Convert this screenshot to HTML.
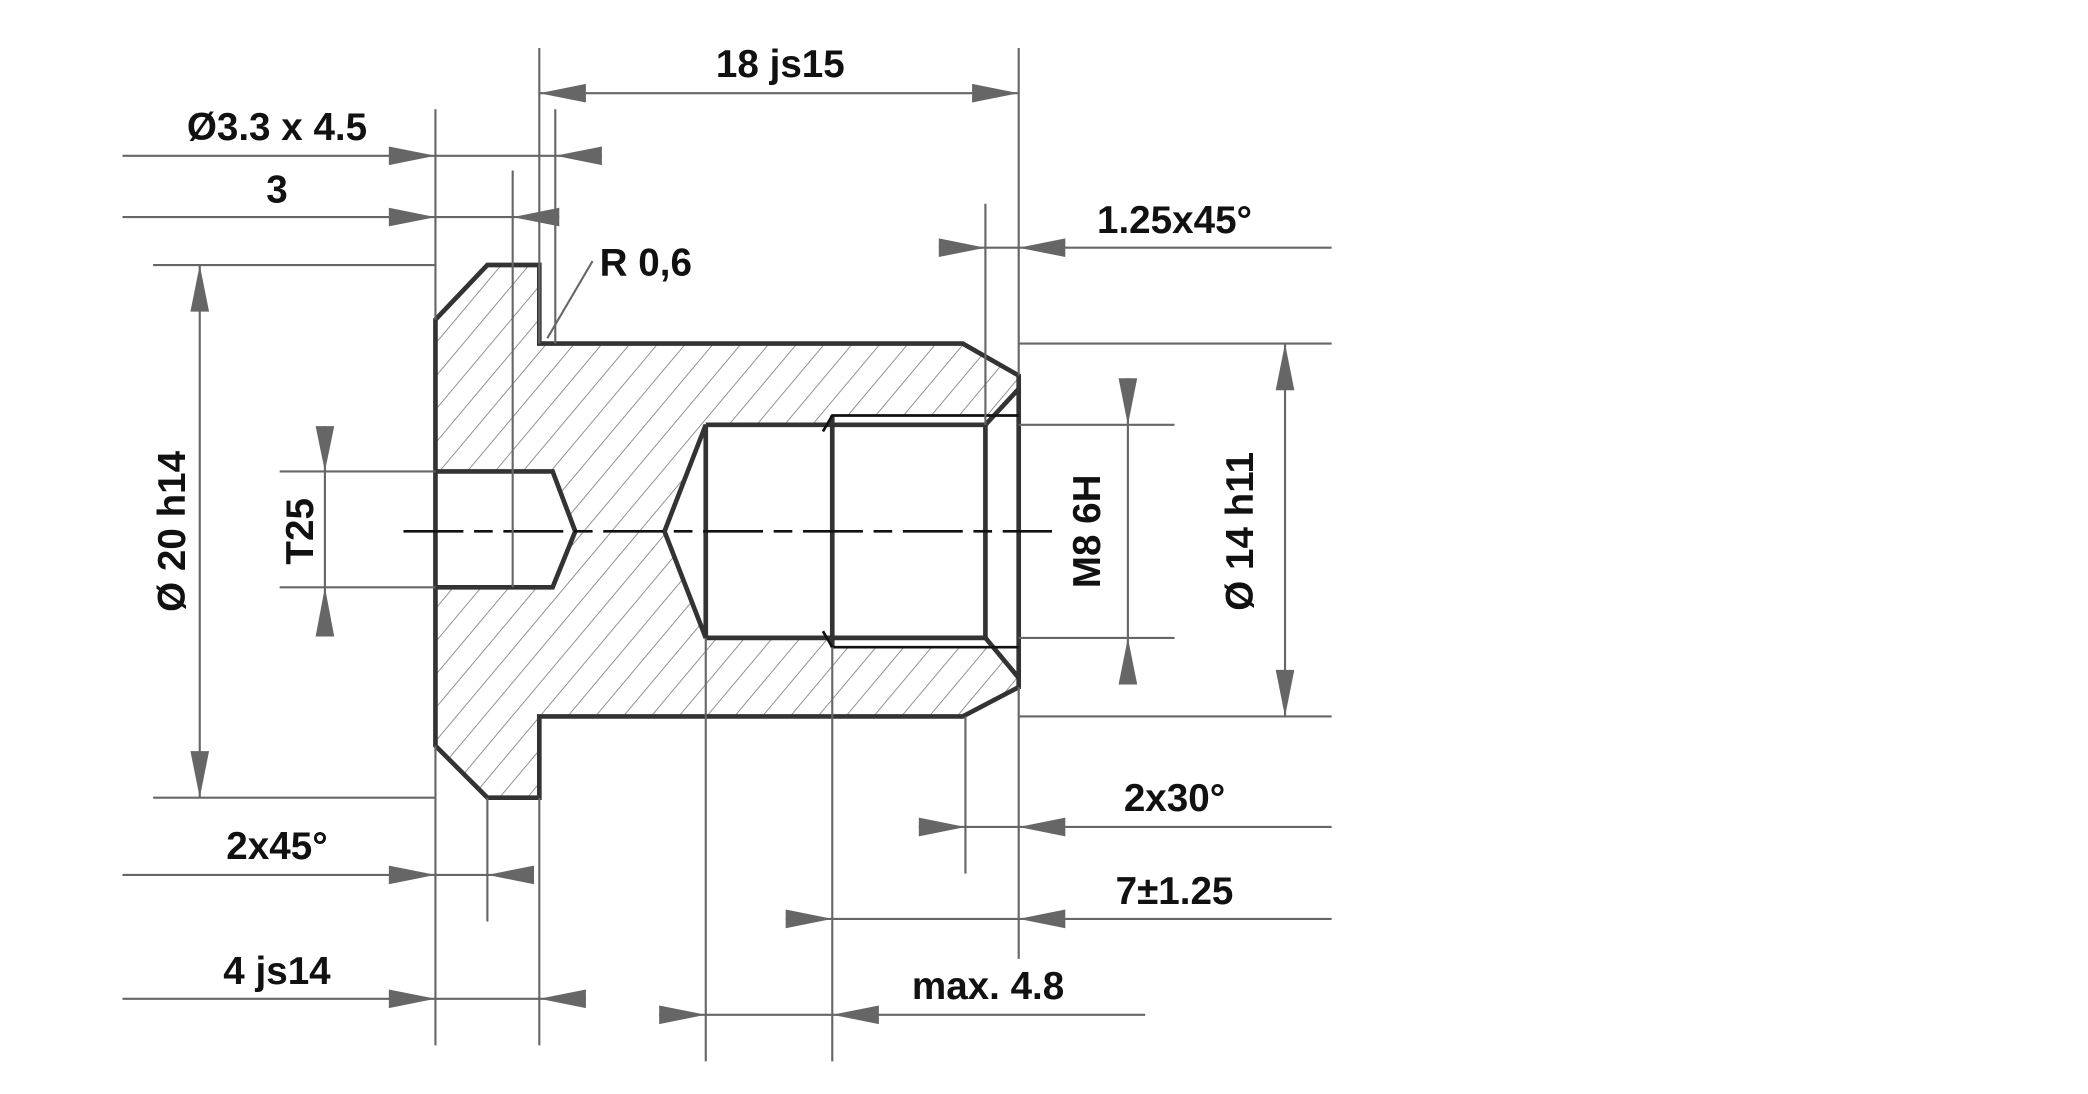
<!DOCTYPE html>
<html><head><meta charset="utf-8"><style>
html,body{margin:0;padding:0;background:#fff}
svg{display:block}
text{font-family:"Liberation Sans",Arial,sans-serif;font-weight:bold;font-size:29px;fill:#111}
.d{stroke:#666;stroke-width:1.6;fill:none}
.a{fill:#666}
.o{stroke:#333;stroke-width:3.5;fill:none;stroke-linejoin:miter}
</style></head><body>
<svg width="2088" height="1094" viewBox="0 0 1568 821.5" preserveAspectRatio="none" xmlns="http://www.w3.org/2000/svg">
<defs>
<pattern id="h" patternUnits="userSpaceOnUse" width="16" height="16" patternTransform="rotate(40)">
<line x1="0" y1="0" x2="0" y2="16" stroke="#777" stroke-width="1.2"/>
</pattern>
</defs>
<path d="M327,240 L366,199 L405,199 L405,258 L723,258 L765,282 L765,516 L723,538 L405,538 L405,599 L366,599 L327,560 Z" fill="url(#h)"/>
<path d="M327,354 L415,354 L432,399 L415,441 L327,441 Z" fill="#fff"/>
<path d="M530,319 L740,319 L765,292 L765,509 L740,479 L530,479 L499,399 Z" fill="#fff"/>
<path d="M622,312 L765,312 L765,486 L622,486 Z" fill="#fff"/>
<path class="o" d="M327,240 L366,199 L405,199 L405,258 L723,258 L765,282 L765,516 L723,538 L405,538 L405,599 L366,599 L327,560 Z"/>
<path class="o" d="M327,354 L415,354 L432,399 L415,441 L327,441"/>
<path class="o" d="M530,319 L740,319 L740,479 L530,479 M530,319 L499,399 L530,479 Z"/>
<line class="o" x1="625" y1="312" x2="625" y2="486"/>
<path class="o" d="M740,319 L765,292 M740,479 L765,509"/>
<path d="M618,324 L625,312 L765,312 M618,474 L625,486 L765,486" stroke="#111" stroke-width="2" fill="none"/>
<line x1="303" y1="399" x2="790" y2="399" stroke="#111" stroke-width="2" stroke-dasharray="45,8,14,8"/>
<line class="d" x1="385" y1="128" x2="385" y2="441"/>
<g class="d">
<line x1="405" y1="36" x2="405" y2="258"/><line x1="765" y1="36" x2="765" y2="282"/>
<line x1="327" y1="82" x2="327" y2="240"/><line x1="417" y1="82" x2="417" y2="258"/>
<line x1="115" y1="199" x2="327" y2="199"/><line x1="115" y1="599" x2="327" y2="599"/>
<line x1="327" y1="560" x2="327" y2="785"/><line x1="405" y1="599" x2="405" y2="785"/>
<line x1="366" y1="599" x2="366" y2="692"/>
<line x1="210" y1="354" x2="327" y2="354"/><line x1="210" y1="441" x2="327" y2="441"/>
<line x1="411" y1="254" x2="445" y2="196"/>
<line x1="740" y1="153" x2="740" y2="319"/>
<line x1="765" y1="258" x2="1000" y2="258"/><line x1="765" y1="538" x2="1000" y2="538"/>
<line x1="765" y1="319" x2="882" y2="319"/><line x1="765" y1="479" x2="882" y2="479"/>
<line x1="725" y1="538" x2="725" y2="656"/><line x1="765" y1="516" x2="765" y2="720"/>
<line x1="625" y1="486" x2="625" y2="797"/><line x1="530" y1="479" x2="530" y2="797"/>
<line x1="405" y1="70" x2="765" y2="70"/>
<line x1="92" y1="117" x2="452" y2="117"/>
<line x1="92" y1="163" x2="420" y2="163"/>
<line x1="150" y1="199" x2="150" y2="599"/>
<line x1="244" y1="320" x2="244" y2="478"/>
<line x1="705" y1="186" x2="1000" y2="186"/>
<line x1="965" y1="258" x2="965" y2="538"/>
<line x1="847" y1="284" x2="847" y2="514"/>
<line x1="690" y1="621" x2="1000" y2="621"/>
<line x1="590" y1="690" x2="1000" y2="690"/>
<line x1="495" y1="762" x2="860" y2="762"/>
<line x1="92" y1="657" x2="400" y2="657"/>
<line x1="92" y1="750" x2="440" y2="750"/>
</g>
<g class="a">
<polygon points="405,70 440,63 440,77"/><polygon points="765,70 730,63 730,77"/>
<polygon points="327,117 292,110 292,124"/><polygon points="417,117 452,110 452,124"/>
<polygon points="327,163 292,156 292,170"/><polygon points="385,163 420,156 420,170"/>
<polygon points="150,199 143,234 157,234"/><polygon points="150,599 143,564 157,564"/>
<polygon points="244,354 237,320 251,320"/><polygon points="244,441 237,478 251,478"/>
<polygon points="740,186 705,179 705,193"/><polygon points="765,186 800,179 800,193"/>
<polygon points="965,258 958,293 972,293"/><polygon points="965,538 958,503 972,503"/>
<polygon points="847,319 840,284 854,284"/><polygon points="847,479 840,514 854,514"/>
<polygon points="725,621 690,614 690,628"/><polygon points="765,621 800,614 800,628"/>
<polygon points="625,690 590,683 590,697"/><polygon points="765,690 800,683 800,697"/>
<polygon points="530,762 495,755 495,769"/><polygon points="625,762 660,755 660,769"/>
<polygon points="327,657 292,650 292,664"/><polygon points="366,657 401,650 401,664"/>
<polygon points="327,750 292,743 292,757"/><polygon points="405,750 440,743 440,757"/>
</g>
<g text-anchor="middle">
<text x="586" y="58">18 js15</text>
<text x="208" y="105">Ø3.3 x 4.5</text>
<text x="208" y="152">3</text>
<text x="485" y="207">R 0,6</text>
<text x="882" y="175">1.25x45°</text>
<text x="882" y="609">2x30°</text>
<text x="882" y="679">7±1.25</text>
<text x="742" y="750">max. 4.8</text>
<text x="208" y="645">2x45°</text>
<text x="208" y="739">4 js14</text>
<text transform="translate(139,399) rotate(-90)">Ø 20 h14</text>
<text transform="translate(235,399) rotate(-90)">T25</text>
<text transform="translate(826,399) rotate(-90)">M8 6H</text>
<text transform="translate(941,399) rotate(-90)">Ø 14 h11</text>
</g>
</svg>
</body></html>
